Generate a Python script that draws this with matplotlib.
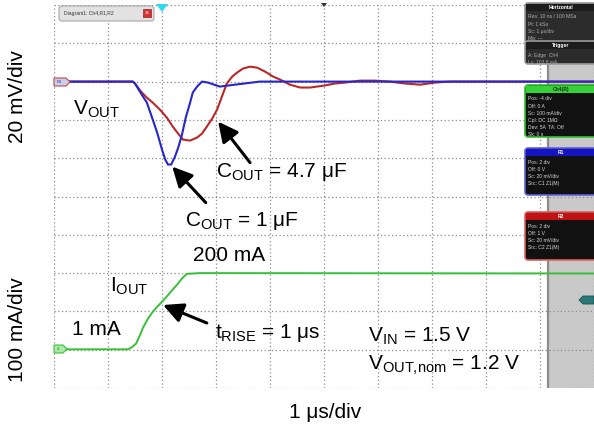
import matplotlib
matplotlib.use("Agg")
import matplotlib.pyplot as plt
from matplotlib.patches import Rectangle, FancyBboxPatch, Polygon

plt.rcParams['font.family'] = ['Liberation Sans', 'DejaVu Sans']
plt.rcParams['mathtext.fontset'] = 'custom'
plt.rcParams['mathtext.rm'] = 'Liberation Sans'
plt.rcParams['mathtext.it'] = 'Liberation Sans:italic'
plt.rcParams['mathtext.bf'] = 'Liberation Sans:bold'

# ---- waveform data (time in us, deviation of VOUT in mV, load current in mA) ----
t_c1 = [0, 1.46, 1.50, 1.59, 1.72, 1.81, 1.91, 2.00, 2.06, 2.11, 2.17, 2.24, 2.30,
        2.37, 2.44, 2.52, 2.57, 2.65, 2.74, 2.85, 3.07, 3.35, 3.81, 10]
v_c1 = [0, 0, -1.0, -5.2, -11.0, -18.3, -26.6, -35.5, -40.7, -43.3, -43.3, -39.2, -34.5,
        -27.7, -18.8, -11.0, -5.7, -2.6, 0, -0.5, -2.6, -1.6, 0, 0]

t_c47 = [0, 1.46, 1.50, 1.61, 1.72, 1.83, 1.96, 2.09, 2.20, 2.30, 2.39, 2.52, 2.65,
         2.74, 2.83, 2.93, 3.02, 3.11, 3.20, 3.30, 3.39, 3.50, 3.63, 3.76, 3.91, 4.06,
         4.19, 4.37, 4.56, 4.74, 5.00, 5.20, 5.39, 5.67, 5.94, 6.22, 6.50, 6.78, 7.06,
         7.33, 10]
v_c47 = [0, 0, -1.0, -5.2, -8.4, -11.0, -14.6, -18.8, -23.5, -27.2, -30.3, -30.8, -29.2,
         -27.2, -23.5, -19.3, -14.6, -7.8, -1.0, 2.6, 4.7, 6.8, 7.8, 7.3, 5.2, 2.6,
         1.0, -1.6, -3.1, -3.1, -2.1, -1.0, -0.5, 0.5, 0.5, 0, -1.0, -1.6, -0.5,
         0, 0]

t_iout = [0, 1.37, 1.44, 1.52, 1.59, 1.65, 1.74, 1.83, 1.93, 2.02, 2.15, 2.28, 2.37,
          2.46, 2.70, 10]
i_out = [1, 1, 6, 16, 37, 58, 81, 99, 115, 128, 149, 170, 186, 198, 200, 199]

# scope settings
v_scale, v_pos = 20, 8      # mV/div, baseline position in div
i_scale, i_pos = 100, 1     # mA/div, baseline position in div
t_scale = 1                 # us/div
n_div = 10

W, H = 594, 430
fig = plt.figure(figsize=(W / 100, H / 100), dpi=100)
fig.patch.set_facecolor('white')

ax = fig.add_axes([54 / W, 42 / H, 540 / W, 383 / H])
ax.set_xlim(0, n_div * t_scale)
ax.set_ylim(-v_pos * v_scale, (n_div - v_pos) * v_scale)
ax.set_xticks(range(0, n_div + 1))
ax.set_yticks(range(-v_pos * v_scale, (n_div - v_pos) * v_scale + 1, v_scale))
ax.grid(True, color='#8a8a8a', linestyle=(0, (1, 2)), linewidth=0.9)
ax.set_axisbelow(True)
ax.tick_params(length=0, labelbottom=False, labelleft=False)
for s in ax.spines.values():
    s.set_visible(False)

ax2 = ax.twinx()
ax2.set_ylim(-i_pos * i_scale, (n_div - i_pos) * i_scale)
ax2.tick_params(length=0, labelright=False)
for s in ax2.spines.values():
    s.set_visible(False)

# grey side bar of the scope display
side_t = 9.15
ax.axvspan(side_t, 10, ymin=0, ymax=0.849, color='#c9c9c9', zorder=0, lw=0)
ax.axvline(side_t, ymin=0, ymax=0.849, color='#8c8c8c', lw=1.6, zorder=0.6)

ax.plot(t_c47, v_c47, color='#b82828', lw=1.5, zorder=3)
ax.plot(t_c1, v_c1, color='#2626cc', lw=1.5, zorder=4)
ax2.plot(t_iout, i_out, color='#38c038', lw=1.4, zorder=3)

fs = 15
ax.text(0.35, -17.2, r'V$_\mathrm{OUT}$', fontsize=fs, ha='left', va='baseline')
ax.text(3.0, -49.6, r'C$_\mathrm{OUT}$ = 4.7 μF', fontsize=fs, ha='left', va='baseline')
ax.text(2.43, -75.2, r'C$_\mathrm{OUT}$ = 1 μF', fontsize=fs, ha='left', va='baseline')
ax2.text(2.57, 232, '200 mA', fontsize=fs, ha='left', va='baseline')
ax2.text(1.04, 151, r'I$_\mathrm{OUT}$', fontsize=fs, ha='left', va='baseline')
ax2.text(0.33, 38, '1 mA', fontsize=fs, ha='left', va='baseline')
ax2.text(2.98, 31, r't$_\mathrm{RISE}$ = 1 μs', fontsize=fs, ha='left', va='baseline')
ax2.text(5.81, 20, r'V$_\mathrm{IN}$ = 1.5 V', fontsize=fs, ha='left', va='baseline')
ax2.text(5.81, -53, r'V$_\mathrm{OUT{,}nom}$ = 1.2 V', fontsize=fs, ha='left', va='baseline')

arrow = dict(arrowstyle='-|>,head_length=0.6,head_width=0.3', color='black',
             lw=2.2, mutation_scale=20, shrinkA=0, shrinkB=0)
ax.annotate('', xy=(3.04, -20.9), xytext=(3.63, -42.3), arrowprops=arrow, zorder=6)
ax.annotate('', xy=(2.19, -44.4), xytext=(2.81, -63.2), arrowprops=arrow, zorder=6)
ax2.annotate('', xy=(2.02, 116.7), xytext=(2.83, 69.7), arrowprops=arrow, zorder=6)

fig.text(18 / W, 1 - 97 / H, '20 mV/div', rotation=90, fontsize=fs, ha='center', va='center')
fig.text(18 / W, 1 - 330 / H, '100 mA/div', rotation=90, fontsize=fs, ha='center', va='center')
fig.text(325 / W, 1 - 412 / H, '1 μs/div', fontsize=fs, ha='center', va='center')

# ---- scope user-interface overlays (pixel coordinates) ----
ov = fig.add_axes([0, 0, 1, 1], zorder=10)
ov.set_xlim(0, W)
ov.set_ylim(H, 0)
ov.axis('off')
ov.patch.set_alpha(0)

small = 3.6

# diagram tab
ov.add_patch(FancyBboxPatch((59, 6), 95, 15, boxstyle='round,pad=0,rounding_size=3',
                            fc='#e2e2e2', ec='#a8a8a8', lw=0.8))
ov.text(64, 14, 'Diagram1: Ch4,R1,R2', fontsize=small, color='#333333', va='center')
ov.add_patch(Rectangle((143, 9), 8, 8, fc='#d83030', ec='#902020', lw=0.5))
ov.text(147, 13, '×', fontsize=5, color='white', ha='center', va='center')

# trigger markers
ov.add_patch(Polygon([(156, 4), (168, 4), (162, 12)], closed=True, fc='#30d8f0', ec='none'))
ov.add_patch(Polygon([(321, 3), (327, 3), (324, 7)], closed=True, fc='#333333', ec='none'))

# channel reference tags
ov.add_patch(Polygon([(54, 78), (66, 78), (70, 82), (66, 86), (54, 86)], closed=True,
                     fc='#c8d0e8', ec='#c04848', lw=0.8, zorder=5))
ov.text(59, 82.3, 'R1', fontsize=3, color='#2626cc', va='center', ha='center', zorder=6)
ov.add_patch(Polygon([(54, 345), (63, 345), (67, 349), (63, 353), (54, 353)], closed=True,
                     fc='#a8e8a8', ec='#40c040', lw=0.8, zorder=5))
ov.text(58.5, 349.3, '4', fontsize=3, color='#208020', va='center', ha='center', zorder=6)
ov.add_patch(Polygon([(579, 300), (583, 296), (594, 296), (594, 304), (583, 304)],
                     closed=True, fc='#2a7878', ec='#1a5050', lw=0.6))


def panel(x, y, w, h, head_fc, head_txt, head_col, edge, lines, body='#111111',
          txt_col='#d8d8d8'):
    ov.add_patch(FancyBboxPatch((x, y), w, h, boxstyle='round,pad=0,rounding_size=3',
                                fc=body, ec=edge, lw=1.2))
    ov.add_patch(Rectangle((x + 1, y + 1), w - 2, 7, fc=head_fc, ec='none'))
    ov.text(x + w / 2, y + 4.8, head_txt, fontsize=small, color=head_col,
            ha='center', va='center', fontweight='bold')
    for k, s in enumerate(lines):
        ov.text(x + 3, y + 14 + k * 7.2, s, fontsize=small, color=txt_col, va='center')


panel(525, 3, 72, 40, '#1c1c1c', 'Horizontal', 'white', '#9a9a9a',
      ['Res: 10 ns / 100 MSa', 'Pt: 1 kSa', 'Sc: 1 μs/div', 'Me: ---'],
      body='#2c2c2c', txt_col='#b0b0b0')
panel(525, 41, 72, 23, '#1c1c1c', 'Trigger', 'white', '#9a9a9a',
      ['A: Edge  Ch4', 'Lv: 103.8 mA'], body='#2c2c2c', txt_col='#b0b0b0')
panel(525, 85, 72, 52, '#38d038', 'Ch4(R)', '#103010', '#30c030',
      ['Pos: -4 div', 'Off: 0 A', 'Sc: 100 mA/div', 'Cpl: DC 1MΩ',
       'Dev: 5A  TA: Off', 'Sk: 0 s'])
panel(525, 148, 72, 47, '#1414c0', 'R1', 'white', '#6060e0',
      ['Pos: 2 div', 'Off: 0 V', 'Sc: 20 mV/div', 'Src: C1 Z1(M)'])
panel(525, 212, 72, 48, '#c01414', 'R2', 'white', '#e06060',
      ['Pos: 2 div', 'Off: 1 V', 'Sc: 20 mV/div', 'Src: C2 Z1(M)'])

fig.savefig('out.png', dpi=100)
